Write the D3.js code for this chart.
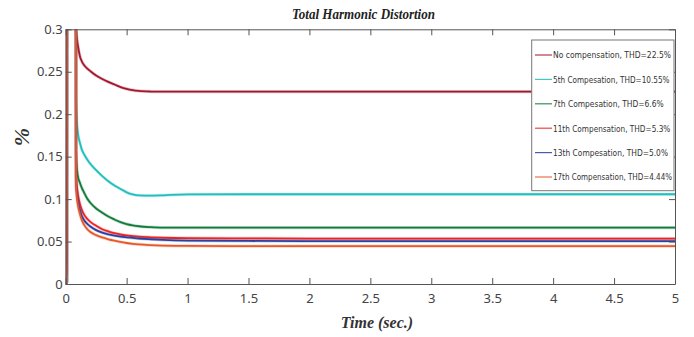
<!DOCTYPE html>
<html>
<head>
<meta charset="utf-8">
<script src="https://cdn.jsdelivr.net/npm/d3@7"></script>
<style>
  body{margin:0;background:#fff}
  svg{display:block}
  .tk text{font-family:'Noto Sans',sans-serif;font-size:13px;fill:#444}
  .tk path,.tk line{stroke:#555}
</style>
</head>
<body>
<svg id="chart" width="694" height="337"></svg>
<script>
// start-up: every trace sits at 0, shoots off the top, then drops back and settles
const startT = [0, 0.008, 0.010, 0.083];
const startV = [0, 0, 0.4, 0.4];
const decayT = [0.085, 0.09, 0.1, 0.117, 0.133, 0.15, 0.175, 0.2, 0.25, 0.3, 0.35, 0.4, 0.45, 0.5, 0.55, 0.6, 0.7, 0.8, 1.0, 1.5, 2, 3, 4, 5];

const noComp = [0.30, 0.292, 0.281, 0.268, 0.262, 0.258, 0.254, 0.251, 0.2455, 0.2415, 0.238, 0.235, 0.232, 0.2298, 0.2283, 0.2274, 0.2267, 0.2265, 0.2265, 0.2265, 0.2265, 0.2265, 0.2265, 0.2265];
const comp5  = [0.22, 0.195, 0.178, 0.166, 0.158, 0.153, 0.147, 0.142, 0.134, 0.127, 0.121, 0.116, 0.112, 0.108, 0.1055, 0.1043, 0.104, 0.1045, 0.1055, 0.1057, 0.1057, 0.1057, 0.1057, 0.1057];
const comp7  = [0.16, 0.140, 0.127, 0.119, 0.113, 0.108, 0.101, 0.096, 0.089, 0.084, 0.0795, 0.076, 0.0728, 0.0705, 0.069, 0.068, 0.067, 0.0665, 0.0665, 0.0665, 0.0665, 0.0665, 0.0665, 0.0665];
const comp11 = [0.13, 0.118, 0.106, 0.094, 0.087, 0.082, 0.077, 0.0735, 0.0685, 0.0645, 0.062, 0.0598, 0.0583, 0.0572, 0.0564, 0.0557, 0.055, 0.0545, 0.054, 0.0537, 0.0535, 0.0535, 0.0535, 0.0535];
const comp13 = [0.12, 0.110, 0.098, 0.087, 0.080, 0.0755, 0.071, 0.068, 0.0635, 0.0605, 0.0585, 0.057, 0.0558, 0.055, 0.0543, 0.0536, 0.0527, 0.052, 0.0512, 0.0507, 0.0505, 0.0505, 0.0505, 0.0505];
const comp17 = [0.115, 0.104, 0.093, 0.082, 0.075, 0.070, 0.065, 0.0615, 0.0575, 0.0548, 0.0527, 0.051, 0.0495, 0.0483, 0.0473, 0.0466, 0.0458, 0.0453, 0.0448, 0.0446, 0.0445, 0.0445, 0.0445, 0.0445];

const seriesNames = [
  'No compensation, THD=22.5%',
  '5th Compesation,  THD=10.55%',
  '7th Compesation, THD=6.6%',
  '11th Compensation, THD=5.3%',
  '13th Compesation, THD=5.0%',
  '17th Compensation, THD=4.44%'
];
const seriesValues = [noComp, comp5, comp7, comp11, comp13, comp17];
const colors = ['#a2182f', '#22bdbd', '#137c3d', '#ee2424', '#2b3f9c', '#e8592a'];
const legendWidths = [118, 116.5, 110.7, 117.3, 115, 119];

const xTicks = d3.range(0, 5.01, 0.5);
const yTicks = [0, 0.05, 0.1, 0.15, 0.2, 0.25, 0.3];

const svg = d3.select('#chart');
const L = 65.7, R = 675, T = 29.3, B = 284;
const x = d3.scaleLinear().domain([0, 5]).range([L, R]);
const y = d3.scaleLinear().domain([0, 0.3]).range([B, T]);

svg.append('clipPath').attr('id', 'clip')
  .append('rect').attr('x', L).attr('y', T).attr('width', R - L).attr('height', B - T + 1);

const line = d3.line().x(d => x(d[0])).y(d => y(d[1])).curve(d3.curveMonotoneX);
const plot = svg.append('g').attr('clip-path', 'url(#clip)');

seriesValues.forEach((vals, i) => {
  const pts = startT.map((t, j) => [t, startV[j]]).concat(decayT.map((t, j) => [t, vals[j]]));
  plot.append('path').datum(pts).attr('d', line)
    .attr('fill', 'none').attr('stroke', colors[i]).attr('stroke-width', 3.2).attr('opacity', 0.25);
  plot.append('path').datum(pts).attr('d', line)
    .attr('fill', 'none').attr('stroke', colors[i]).attr('stroke-width', 1.8);
});

// axes on all four sides, ticks pointing inward
const fmt = d => d3.format('~g')(d);
svg.append('g').attr('class', 'tk').attr('transform', `translate(0,${B})`)
  .call(d3.axisBottom(x).tickValues(xTicks).tickFormat(fmt).tickSizeInner(-6).tickSizeOuter(0).tickPadding(10));
svg.append('g').attr('class', 'tk').attr('transform', `translate(0,${T})`)
  .call(d3.axisTop(x).tickValues(xTicks).tickFormat('').tickSizeInner(-6).tickSizeOuter(0));
svg.append('g').attr('class', 'tk').attr('transform', `translate(${L},0)`)
  .call(d3.axisLeft(y).tickValues(yTicks).tickFormat(fmt).tickSizeInner(-6).tickSizeOuter(0).tickPadding(3));
svg.append('g').attr('class', 'tk').attr('transform', `translate(${R},0)`)
  .call(d3.axisRight(y).tickValues(yTicks).tickFormat('').tickSizeInner(-6).tickSizeOuter(0));

// legend
const lg = svg.append('g');
lg.append('rect').attr('x', 531.7).attr('y', 40).attr('width', 142.3).attr('height', 150.7)
  .attr('fill', '#fff').attr('stroke', '#777').attr('stroke-width', 1);
seriesNames.forEach((name, i) => {
  const yy = 55 + i * 24.4;
  lg.append('line').attr('x1', 535).attr('x2', 552).attr('y1', yy).attr('y2', yy)
    .attr('stroke', colors[i]).attr('stroke-width', 1.2).attr('opacity', 0.85);
  lg.append('text').attr('x', 553).attr('y', yy + 3.3)
    .attr('textLength', legendWidths[i]).attr('lengthAdjust', 'spacingAndGlyphs')
    .style('font-family', "'Liberation Sans Narrow','DejaVu Sans Condensed',sans-serif")
    .style('font-size', '9.5px').attr('fill', '#333').text(name);
});

// titles
const serif = "'Liberation Serif','Times New Roman',serif";
svg.append('text').attr('x', 292).attr('y', 19)
  .attr('textLength', 143).attr('lengthAdjust', 'spacingAndGlyphs')
  .style('font-family', serif).style('font-weight', 'bold').style('font-style', 'italic')
  .style('font-size', '15px').attr('fill', '#222').text('Total Harmonic Distortion');
svg.append('text').attr('x', 377).attr('y', 328).attr('text-anchor', 'middle')
  .style('font-family', serif).style('font-weight', 'bold').style('font-style', 'italic')
  .style('font-size', '16px').attr('fill', '#333').text('Time (sec.)');
svg.append('text').attr('transform', 'translate(29,137) rotate(-90)').attr('text-anchor', 'middle')
  .style('font-family', serif).style('font-weight', 'bold').style('font-style', 'italic')
  .style('font-size', '22px').attr('fill', '#333').text('%');
</script>
</body>
</html>
